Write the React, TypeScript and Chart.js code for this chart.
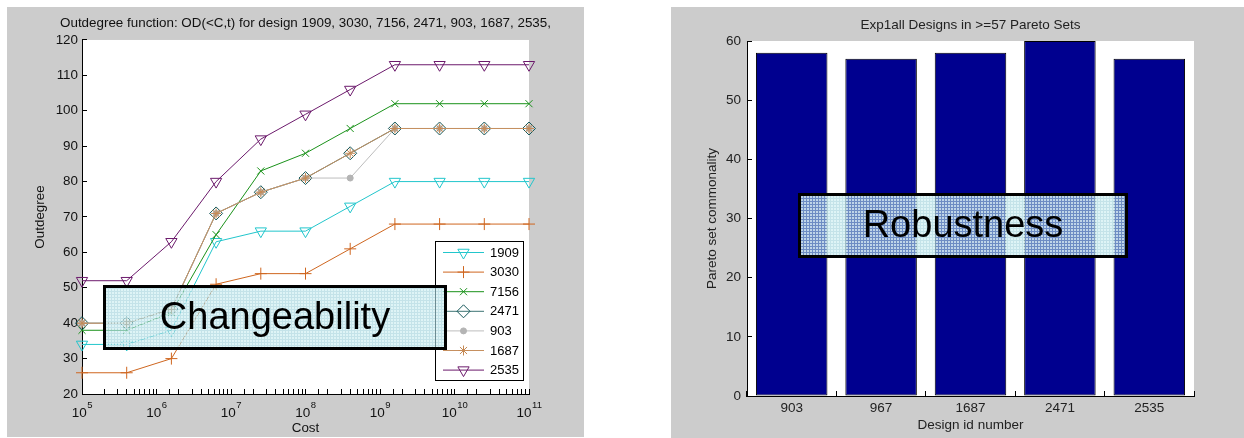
import React, { useEffect, useRef } from 'react';
import { Chart, registerables } from 'chart.js';
import { drawPoint } from 'chart.js/helpers';

Chart.register(...registerables);

const FONT = "'Liberation Sans', Arial, Helvetica, sans-serif";

// ---------- Left chart data ----------
const costs = [1e5, 3.98e5, 1.585e6, 6.31e6, 2.512e7, 1e8, 3.98e8, 1.585e9, 6.31e9, 2.512e10, 1e11];
const designNames = ['1909', '3030', '7156', '2471', '903', '1687', '2535'];
const od1909 = [34, 34, 38, 63, 66, 66, 73, 80, 80, 80, 80];
const od3030 = [26, 26, 30, 51, 54, 54, 61, 68, 68, 68, 68];
const od7156 = [38, 38, 43, 65, 83, 88, 95, 102, 102, 102, 102];
const od2471 = [40, 40, 44, 71, 77, 81, 88, 95, 95, 95, 95];
const od903 = [40, 40, 44, 71, 77, 81, 81, 95, 95, 95, 95];
const od1687 = [40, 40, 44, 71, 77, 81, 88, 95, 95, 95, 95];
const od2535 = [52, 52, 63, 80, 92, 99, 106, 113, 113, 113, 113];
const odSeries = [od1909, od3030, od7156, od2471, od903, od1687, od2535];
const leftTitle = 'Outdegree function: OD(<C,t) for design 1909, 3030, 7156, 2471, 903, 1687, 2535,';

// ---------- Right chart data ----------
const designIds = ['903', '967', '1687', '2471', '2535'];
const commonality = [58, 57, 58, 60, 57];
const rightTitle = 'Exp1all Designs in >=57 Pareto Sets';

// ---------- Styles ----------
const FS = 13.4;
const seriesStyles = [
  { line: '#22c6cc', marker: '#22c6cc', fill: 'rgba(0,0,0,0)', style: 'triangle', rot: 180, r: 6.5 },
  { line: '#cf661f', marker: '#cf661f', fill: 'rgba(0,0,0,0)', style: 'cross', rot: 0, r: 6 },
  { line: '#1a921a', marker: '#1a921a', fill: 'rgba(0,0,0,0)', style: 'crossRot', rot: 0, r: 5 },
  { line: '#3c7474', marker: '#16585a', fill: 'rgba(0,0,0,0)', style: 'rectRot', rot: 0, r: 6.5 },
  { line: '#bdbdbd', marker: '#b4b4b4', fill: '#b4b4b4', style: 'circle', rot: 0, r: 3 },
  { line: '#c69060', marker: '#c68a55', fill: 'rgba(0,0,0,0)', style: 'star', rot: 0, r: 5 },
  { line: '#6c1a6c', marker: '#6c1a6c', fill: 'rgba(0,0,0,0)', style: 'triangle', rot: 180, r: 6.5 },
];

function makePattern(ctx: CanvasRenderingContext2D) {
  const pc = document.createElement('canvas');
  pc.width = 3;
  pc.height = 3;
  const p = pc.getContext('2d')!;
  p.fillStyle = 'rgba(165,212,222,0.66)';
  p.fillRect(0, 0, 3, 3);
  p.clearRect(1, 1, 2, 2);
  p.fillStyle = 'rgba(218,242,245,0.88)';
  p.fillRect(1, 1, 2, 2);
  return ctx.createPattern(pc, 'repeat')!;
}

const panelPlugin = {
  id: 'panel',
  beforeDraw(chart: any, _args: any, opts: any) {
    const { ctx, chartArea } = chart;
    ctx.save();
    ctx.fillStyle = '#cccccc';
    ctx.fillRect(opts.x, opts.y, opts.w, opts.h);
    ctx.fillStyle = '#ffffff';
    ctx.fillRect(chartArea.left, chartArea.top, chartArea.right - chartArea.left, chartArea.bottom - chartArea.top);
    ctx.restore();
  },
};

// Draws "10" with a raised exponent under each power-of-ten tick of the log axis
const logTickPlugin = {
  id: 'logTicks',
  afterDraw(chart: any, _args: any, opts: any) {
    if (!opts || !opts.enabled) return;
    const { ctx } = chart;
    const scale = chart.scales.x;
    ctx.save();
    ctx.fillStyle = '#111';
    ctx.textBaseline = 'alphabetic';
    ctx.textAlign = 'left';
    for (const t of scale.ticks) {
      const e = Math.log10(t.value);
      const r = Math.round(e);
      if (Math.abs(e - r) > 1e-6) continue;
      const x = scale.getPixelForValue(t.value);
      const base = '10';
      const exp = String(r);
      ctx.font = `${opts.size}px ${FONT}`;
      const bw = ctx.measureText(base).width;
      ctx.font = `${opts.supSize}px ${FONT}`;
      const ew = ctx.measureText(exp).width;
      const x0 = x - (bw + ew) / 2;
      ctx.font = `${opts.size}px ${FONT}`;
      ctx.fillText(base, x0, opts.baseY);
      ctx.font = `${opts.supSize}px ${FONT}`;
      ctx.fillText(exp, x0 + bw + 0.5, opts.supY);
    }
    ctx.restore();
  },
};

const matlabLegendPlugin = {
  id: 'matlabLegend',
  afterDraw(chart: any, _args: any, opts: any) {
    if (!opts || !opts.enabled) return;
    const { ctx } = chart;
    const ds = chart.data.datasets;
    ctx.save();
    ctx.fillStyle = '#ffffff';
    ctx.fillRect(opts.x, opts.y, opts.w, opts.h);
    ctx.strokeStyle = '#000';
    ctx.lineWidth = 1;
    ctx.strokeRect(opts.x + 0.5, opts.y + 0.5, opts.w - 1, opts.h - 1);
    ds.forEach((d: any, i: number) => {
      const y = opts.y + opts.first + i * opts.step;
      ctx.strokeStyle = d.borderColor;
      ctx.lineWidth = 1;
      ctx.beginPath();
      ctx.moveTo(opts.x + 8, y + 0.5);
      ctx.lineTo(opts.x + 49, y + 0.5);
      ctx.stroke();
      ctx.fillStyle = d.pointBackgroundColor;
      ctx.strokeStyle = d.pointBorderColor;
      drawPoint(ctx, { pointStyle: d.pointStyle, rotation: d.pointRotation, radius: d.pointRadius, borderWidth: 1 } as any, opts.x + 28.5, y + 0.5);
      ctx.fillStyle = '#000';
      ctx.font = `${opts.size}px ${FONT}`;
      ctx.textAlign = 'left';
      ctx.textBaseline = 'middle';
      ctx.fillText(d.label, opts.x + 55, y + 1);
    });
    ctx.restore();
  },
};

const boxPlugin = {
  id: 'textBox',
  afterDraw(chart: any, _args: any, opts: any) {
    if (!opts || !opts.text) return;
    const { ctx } = chart;
    ctx.save();
    ctx.fillStyle = makePattern(ctx);
    ctx.fillRect(opts.x, opts.y, opts.w, opts.h);
    ctx.strokeStyle = '#000';
    ctx.lineWidth = 3;
    ctx.strokeRect(opts.x + 1.5, opts.y + 1.5, opts.w - 3, opts.h - 3);
    ctx.fillStyle = '#000';
    ctx.font = `${opts.size}px ${FONT}`;
    ctx.textAlign = 'center';
    ctx.textBaseline = 'middle';
    ctx.fillText(opts.text, opts.x + opts.w / 2, opts.y + opts.h / 2 + 1);
    ctx.restore();
  },
};

export default function App() {
  const leftRef = useRef<HTMLCanvasElement>(null);
  const rightRef = useRef<HTMLCanvasElement>(null);

  useEffect(() => {
    Chart.defaults.font.family = FONT;
    Chart.defaults.font.size = FS;
    Chart.defaults.color = '#111';

    const n = odSeries.length;
    const datasets = odSeries.map((vals, i) => {
      const s = seriesStyles[i];
      return {
        label: designNames[i],
        data: vals.map((v, k) => ({ x: costs[k], y: v })),
        borderColor: s.line,
        borderWidth: 1,
        pointStyle: s.style,
        pointRotation: s.rot,
        pointRadius: s.r,
        pointBorderColor: s.marker,
        pointBackgroundColor: s.fill,
        pointBorderWidth: 1,
        tension: 0,
        clip: false as any,
        order: n - i,
      };
    });

    const left = new Chart(leftRef.current!, {
      type: 'line',
      data: { datasets: datasets as any },
      options: {
        animation: false,
        responsive: false,
        events: [],
        layout: { padding: { left: 8, top: 8, right: 17, bottom: 2 } },
        plugins: {
          legend: { display: false },
          tooltip: { enabled: false },
          title: {
            display: true,
            text: leftTitle,
            color: '#111',
            font: { size: FS, weight: 'normal' },
            padding: { top: 7.2, bottom: 8.7 },
          },
          panel: { x: 7, y: 7, w: 577, h: 430 },
          logTicks: { enabled: true, size: 13.5, supSize: 9.5, baseY: 417, supY: 408 },
          matlabLegend: { enabled: true, x: 435, y: 241, w: 89, h: 140, first: 11, step: 19.6, size: 13 },
          textBox: { text: 'Changeability', x: 103, y: 285, w: 344, h: 65, size: 38 },
        } as any,
        scales: {
          x: {
            type: 'logarithmic',
            min: 1e5,
            max: 1e11,
            border: { display: true, color: '#000', width: 1 },
            grid: { drawOnChartArea: false, drawTicks: true, tickLength: -5, color: '#000', tickColor: '#000' },
            ticks: { display: false, autoSkip: false, maxRotation: 0 },
            title: { display: true, text: 'Cost', color: '#111', font: { size: FS }, padding: { top: 0, bottom: 0 } },
            afterFit: (s: any) => { s.height = 42; },
          },
          y: {
            type: 'linear',
            min: 20,
            max: 120,
            position: 'left',
            border: { display: true, color: '#000', width: 1 },
            grid: { drawOnChartArea: false, drawTicks: true, tickLength: -5, color: '#000', tickColor: '#000' },
            ticks: { stepSize: 10, padding: 9, color: '#111', font: { size: FS } },
            title: { display: true, text: 'Outdegree', color: '#111', font: { size: FS }, padding: { top: 24.5, bottom: 0 } },
            afterFit: (s: any) => { s.width = 74; },
          },
          yPad: {
            type: 'linear',
            position: 'right',
            display: true,
            border: { display: false },
            grid: { display: false, drawTicks: false },
            ticks: { display: false },
            afterFit: (s: any) => { s.width = 74; },
          },
        } as any,
      },
      plugins: [panelPlugin, logTickPlugin, matlabLegendPlugin, boxPlugin],
    });

    const right = new Chart(rightRef.current!, {
      type: 'bar',
      data: {
        labels: designIds,
        datasets: [
          {
            label: 'Pareto set commonality',
            data: commonality,
            backgroundColor: '#00008f',
            borderColor: '#000000',
            borderWidth: 1,
            borderSkipped: false,
            barPercentage: 0.8,
            categoryPercentage: 1.0,
          },
        ],
      },
      options: {
        animation: false,
        responsive: false,
        events: [],
        layout: { padding: { left: 70, top: 8, right: 50, bottom: 5 } },
        plugins: {
          legend: { display: false },
          tooltip: { enabled: false },
          title: {
            display: true,
            fullSize: false,
            text: rightTitle,
            color: '#222',
            font: { size: 13.5, weight: 'normal' },
            padding: { top: 9.4, bottom: 7.4 },
          },
          panel: { x: 51, y: 7, w: 573, h: 431 },
          textBox: { text: 'Robustness', x: 178, y: 193, w: 330, h: 65, size: 38 },
        } as any,
        scales: {
          x: {
            type: 'category',
            border: { display: true, color: '#000', width: 1 },
            grid: { drawOnChartArea: false, drawTicks: true, tickLength: -5, color: '#000', tickColor: '#000' },
            ticks: { padding: 9.2, color: '#222', font: { size: 13.5 } },
            title: { display: true, text: 'Design id number', color: '#222', font: { size: 13.5 }, padding: { top: 0, bottom: 0 } },
            afterFit: (s: any) => { s.height = 37; },
          },
          y: {
            type: 'linear',
            min: 0,
            max: 60,
            border: { display: true, color: '#000', width: 1 },
            grid: { drawOnChartArea: false, drawTicks: true, tickLength: -5, color: '#000', tickColor: '#000' },
            ticks: { stepSize: 10, padding: 11, color: '#222', font: { size: 13.5 } },
            title: { display: true, text: 'Pareto set commonality', color: '#222', font: { size: 13.5 }, padding: { top: 13.9, bottom: 0 } },
            afterFit: (s: any) => { s.width = 57; },
          },
        } as any,
      },
      plugins: [panelPlugin, boxPlugin],
    });

    return () => {
      left.destroy();
      right.destroy();
    };
  }, []);

  return (
    <div style={{ position: 'absolute', left: 0, top: 0, width: 1244, height: 438, background: '#ffffff', overflow: 'hidden' }}>
      <canvas ref={leftRef} width={620} height={438} style={{ position: 'absolute', left: 0, top: 0, width: 620, height: 438 }} />
      <canvas ref={rightRef} width={624} height={438} style={{ position: 'absolute', left: 620, top: 0, width: 624, height: 438 }} />
    </div>
  );
}
